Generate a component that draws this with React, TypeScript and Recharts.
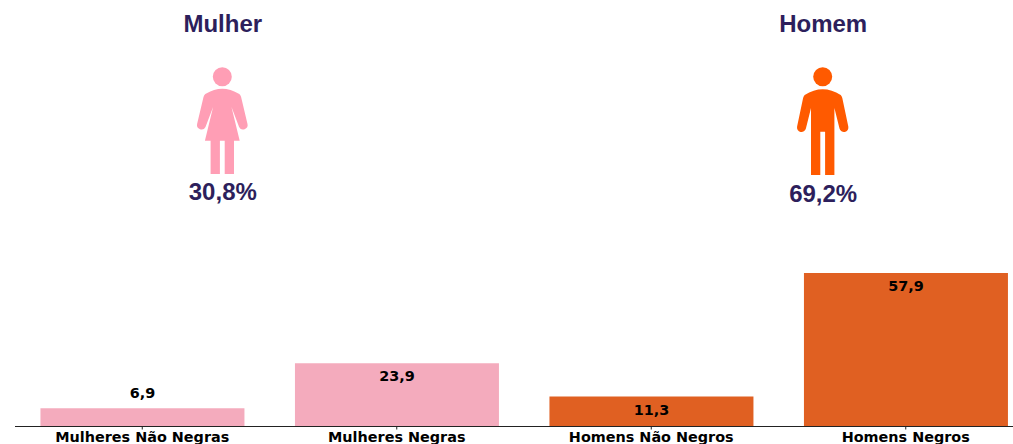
import { Bar, BarChart, Cell, LabelList, XAxis, YAxis } from 'recharts'

const categories = ['Mulheres Não Negras', 'Mulheres Negras', 'Homens Não Negros', 'Homens Negros']
const values = [6.9, 23.9, 11.3, 57.9]
const barColors = ['#f4abbd', '#f4abbd', '#e06022', '#e06022']

const chartData = categories.map((name, i) => ({ name, value: values[i] }))

const PURPLE = '#2d1f5c'
const titleFont = '"Liberation Sans", Arial, sans-serif'
const chartFont = '"DejaVu Sans", sans-serif'

const womanPath =
  'M-17 94 Q-8 88.7 0 88.7 Q8 88.7 17 94 Q18.2 95 18.8 97 L25.2 124 A4.5 4.5 0 0 1 16.8 127 L9.2 107 L17.4 140.7 L11.7 140.7 L11.7 174 L2.4 174 L2.4 140.7 L-2.4 140.7 L-2.4 174 L-11.7 174 L-11.7 140.7 L-17.4 140.7 L-9.2 107 L-16.8 127 A4.5 4.5 0 0 1 -25.2 124 L-18.8 97 Q-18.2 95 -17 94 Z'

const manPath =
  'M-18 95 Q-9 89.2 0 89.2 Q9 89.2 18 95 Q19 96 19.6 98 L25.6 126.5 A4.5 4.5 0 0 1 16.8 128.5 L11.7 108 L11.7 175 L2.4 175 L2.4 131.7 L-2.4 131.7 L-2.4 175 L-11.7 175 L-11.7 108 L-16.8 128.5 A4.5 4.5 0 0 1 -25.6 126.5 L-19.6 98 Q-19 96 -18 95 Z'

function ValueLabel(props: any) {
  const { x, y, width, height, value } = props
  // only the shortest bar has its label above
  const labelY = height < 25 ? y - 10 : y + 18
  return (
    <text
      x={x + width / 2}
      y={labelY}
      textAnchor="middle"
      fontFamily={chartFont}
      fontWeight="bold"
      fontSize={14.4}
      fill="#000"
    >
      {String(value).replace('.', ',')}
    </text>
  )
}

function Figure({ cx, color, path, title, share, shareY }: any) {
  return (
    <g>
      <text x={cx} y={32} textAnchor="middle" fontFamily={titleFont} fontWeight="bold" fontSize={24} fill={PURPLE}>
        {title}
      </text>
      <circle cx={cx - 0.5} cy={76.8} r={9.5} fill={color} />
      <path d={path} transform={`translate(${cx - 0.5} 0)`} fill={color} />
      <text x={cx} y={shareY} textAnchor="middle" fontFamily={titleFont} fontWeight="bold" fontSize={24} fill={PURPLE}>
        {share}
      </text>
    </g>
  )
}

export default function App() {
  return (
    <div style={{ position: 'fixed', left: 0, top: 0, width: 1013, height: 444, overflow: 'hidden', background: '#fff' }}>
      <BarChart
        width={1040}
        height={444}
        data={chartData}
        barCategoryGap="10%"
        margin={{ top: 241, right: 7, bottom: 0, left: 15 }}
      >
        <XAxis
          dataKey="name"
          interval={0}
          height={17.5}
          tickSize={3}
          tickMargin={2}
          stroke="#222"
          axisLine={{ stroke: '#222', strokeWidth: 1.2 }}
          tick={{ fontFamily: chartFont, fontWeight: 'bold', fontSize: 14.4, fill: '#000' }}
        />
        <YAxis hide domain={[0, 70]} />
        <Bar dataKey="value" isAnimationActive={false}>
          {chartData.map((d, i) => (
            <Cell key={d.name} fill={barColors[i]} />
          ))}
          <LabelList dataKey="value" content={ValueLabel} />
        </Bar>
      </BarChart>
      <svg width={1013} height={230} style={{ position: 'absolute', left: 0, top: 0 }}>
        <Figure cx={222.8} color="#ff9eb5" path={womanPath} title="Mulher" share="30,8%" shareY={200} />
        <Figure cx={823.2} color="#ff5a00" path={manPath} title="Homem" share="69,2%" shareY={202} />
      </svg>
    </div>
  )
}
